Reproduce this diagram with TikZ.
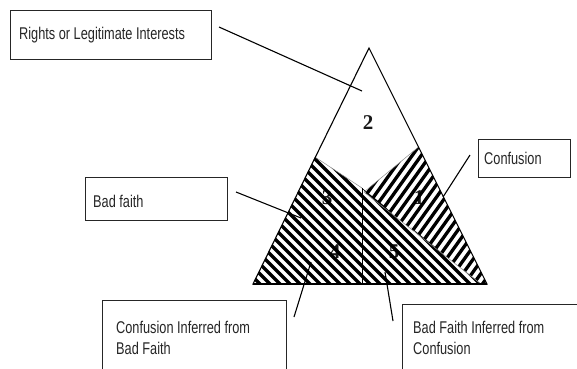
\documentclass[tikz,border=0pt]{standalone}
\usepackage{fontspec}
\setmainfont{Liberation Sans}[FakeStretch=0.75]
\newfontfamily\numfont{Liberation Serif}
\usetikzlibrary{calc}
\tikzset{
  box/.style={draw=black!85, line width=1.1pt, rectangle, inner sep=0pt, fill=white, anchor=north west},
  lbl/.style={inner sep=0pt, font=\fontsize{17}{21}\selectfont, text=black!85, align=left},
  num/.style={font=\numfont\bfseries\fontsize{21}{21}\selectfont, inner sep=0pt, text=black!90},
  conn/.style={line width=1.1pt, black},
  stripe/.style={line width=3.3pt, black},
  seam/.style={draw=black!45, line width=0.5pt},
}
\begin{document}
\begin{tikzpicture}[x=1pt,y=-1pt]
\useasboundingbox (0,0) rectangle (577,368);
\clip (0,0) rectangle (577,368);
% triangle geometry
\coordinate (apex) at (369,48);
\coordinate (bl) at (253,284);
\coordinate (br) at (487,284);
\coordinate (l1) at (315,157);
\coordinate (v) at (362,188);
\coordinate (vb) at (362,284);
\coordinate (r0) at (364,192);
\coordinate (r1) at (418.5,147);
\coordinate (r5) at (481,284);
% numbers (under the hatching)
\node[num] (n2) at (368,123) {2};
\node[num] (n3) at (327,198) {3};
\node[num] (n1) at (419,198) {1};
\node[num] (n4) at (335,252) {4};
\node[num] (n5) at (394,252) {5};
% hatched region 1 (steep / stripes)
\begin{scope}
  \clip (r0) -- (r1) -- (br) -- (r5) -- cycle;
  \foreach \k in {0,...,28} \draw[stripe] (246+9*\k,300) -- ++(110,-154);
\end{scope}
% hatched regions 3,4,5 (\ stripes)
\begin{scope}
  \clip (l1) -- (v) -- (vb) -- (bl) -- cycle (v) -- (vb) -- (r5) -- cycle;
  \foreach \k in {0,...,40} \draw[stripe] (96+10*\k,140) -- ++(160,160);
\end{scope}
\draw[seam] (l1) -- (v);
\draw[seam] (r0) -- (r1);
\draw[seam] (r0) -- (r5);
% outline
\draw[line width=1.1pt] (apex) -- (br) -- (bl) -- cycle;
\draw[line width=1.6pt] (bl) -- (br);
\draw[line width=0.9pt] (v) -- (vb);
% boxes
\node[box, minimum width=201, minimum height=49] (b1) at (10,10) {};
\node[lbl, anchor=west] (t1) at ($(b1.west)+(9,0)$) {Rights or Legitimate Interests};
\node[box, minimum width=92, minimum height=38] (b2) at (478,139) {};
\node[lbl, anchor=west] (t2) at ($(b2.west)+(6,0)$) {Confusion};
\node[box, minimum width=142, minimum height=43] (b3) at (85,177) {};
\node[lbl, anchor=west] (t3) at ($(b3.west)+(8,2)$) {Bad faith};
\node[box, minimum width=184, minimum height=100] (b4) at (102,300) {};
\node[lbl, anchor=north west] (t4) at ($(b4.north west)+(14,21)$) {Confusion Inferred from\\Bad Faith};
\node[box, minimum width=200, minimum height=100] (b5) at (402,304) {};
\node[lbl, anchor=north west] (t5) at ($(b5.north west)+(11,17)$) {Bad Faith Inferred from\\Confusion};
% connectors
\coordinate (s1) at (219,27);  \coordinate (e1) at (362,91);
\coordinate (s2) at (470,155); \coordinate (e2) at (443,197);
\coordinate (s3) at (236,192); \coordinate (e3) at (301,218);
\coordinate (s4) at (294,317); \coordinate (e4) at (311,262);
\coordinate (s5) at (393,321); \coordinate (e5) at (385,272);
\draw[conn] (s1) -- (e1);
\draw[conn] (s2) -- (e2);
\draw[conn] (s3) -- (e3);
\draw[conn] (s4) -- (e4);
\draw[conn] (s5) -- (e5);
\end{tikzpicture}
\end{document}
